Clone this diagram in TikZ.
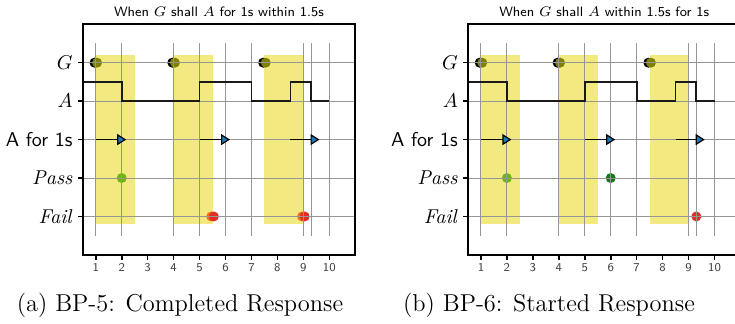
\documentclass[tikz,border=0pt]{standalone}
\usepackage{amsmath}
\usetikzlibrary{arrows.meta}

\definecolor{spanyellow}{RGB}{242,234,128}
\definecolor{gridgray}{RGB}{150,150,150}
\definecolor{gcolor}{RGB}{128,128,0}
\definecolor{holdblue}{RGB}{31,119,180}
\definecolor{passlight}{RGB}{110,180,20}
\definecolor{passdark}{RGB}{20,120,20}
\definecolor{failorange}{RGB}{245,110,30}
\definecolor{failred}{RGB}{225,45,35}

% shaded windows: G plus 1.5s
\newcommand{\panelspans}{%
  \foreach \s in {1,4,7.5}
    \fill[span] (\s,-0.2) rectangle ({\s+1.5},4.2);
}
% G events
\newcommand{\panelgmarks}{%
  \foreach \t in {1,4,7.5} {
    \fill[black] ({\t-0.05},4) circle[radius=2.5pt];
    \fill[gcolor] ({\t+0.05},4) circle[radius=2.5pt];
  }
}
% grid, signal, frame and labels
\newcommand{\panelfront}[2]{%
  \foreach \t in {1,2,4,5,6,7,9,9.3,10}
    \draw[gridline] (\t,-0.5) -- (\t,4.5);
  \foreach \r in {0,...,4}
    \draw[gridline] (0.5,\r) -- (11,\r);
  % A
  \draw[signal] (0.5,3.5) -- (2,3.5) -- (2,3) -- (5,3) -- (5,3.5) -- (7,3.5)
    -- (7,3) -- (8.5,3) -- (8.5,3.5) -- (9.3,3.5) -- (9.3,3) -- (10,3);
  % A for 1s
  \coordinate (#1h1) at (1,2);   \coordinate (#1e1) at (2,2);
  \coordinate (#1h2) at (5,2);   \coordinate (#1e2) at (6,2);
  \coordinate (#1h3) at (8.5,2); \coordinate (#1e3) at (9.45,2);
  \foreach \i in {1,2,3}
    \draw[holdarrow] (#1h\i) -- (#1e\i);
  % axes
  \draw[frame] (0.5,-1) rectangle (11,5);
  \foreach \r/\lab in {4/$G$, 3/$A$, 2/\textsf{A for 1s}, 1/\textit{Pass}, 0/\textit{Fail}} {
    \draw[tickmark] (0.5,\r) -- ++(-2.5pt,0);
    \node[ylab] (#1row\r) at ([xshift=-4.9pt]0.5,\r) {\lab};
  }
  \foreach \t in {1,...,10} {
    \draw[tickmark] (\t,-1) -- ++(0,-2.3pt);
    \node[xlab] (#1x\t) at ([yshift=-4pt]\t,-1) {\t};
  }
  \node[title] (#1title) at (5.75,5.19) {#2};
}

\begin{document}
\begin{tikzpicture}[
    line cap=butt, line join=miter,
    span/.style={fill=spanyellow},
    gridline/.style={draw=gridgray, line width=0.5pt},
    signal/.style={draw=black!90, line width=0.85pt},
    frame/.style={draw=black, line width=1.1pt},
    tickmark/.style={draw=black, line width=0.8pt},
    holdarrow/.style={draw=black, line width=0.6pt, shorten >=-2.25pt,
      -{Triangle[length=4.5pt, width=5.5pt, fill=holdblue]}},
    ylab/.style={anchor=east, inner sep=0pt, font=\fontsize{10}{12}\selectfont},
    xlab/.style={anchor=north, inner sep=0pt, text=black!75,
      font=\sffamily\fontsize{6}{7}\selectfont},
    title/.style={anchor=base, inner sep=0pt, font=\sffamily\fontsize{6.8}{8}\selectfont},
    caption/.style={anchor=base, inner sep=0pt, font=\fontsize{12.2}{14}\selectfont}
  ]
  \useasboundingbox (0,0) rectangle (367.5pt,162pt);
  \clip (0,0) rectangle (367.5pt,162pt);

  % (a) completed response
  \begin{scope}[shift={(34.9pt,53.75pt)}, x=12.975pt, y=19.225pt]
    \panelspans
    \panelgmarks
    \fill[passlight] (2,1) circle[radius=2.5pt];
    \foreach \t in {5.5,9} {
      \fill[failorange] ({\t-0.05},0) circle[radius=2.5pt];
      \fill[failred] ({\t+0.05},0) circle[radius=2.5pt];
    }
    \panelfront{a}{When $G$ shall $A$ for 1s within 1.5s}
  \end{scope}

  % (b) started response
  \begin{scope}[shift={(227.5pt,53.75pt)}, x=12.975pt, y=19.225pt]
    \panelspans
    \panelgmarks
    \fill[passlight] (2,1) circle[radius=2.5pt];
    \fill[passdark] (6,1) circle[radius=2.5pt];
    \fill[failred] (9.3,0) circle[radius=2.5pt];
    \panelfront{b}{When $G$ shall $A$ within 1.5s for 1s}
  \end{scope}

  \node[caption] (capa) at (90pt,6pt) {(a) BP-5: Completed Response};
  \node[caption] (capb) at (274.5pt,6pt) {(b) BP-6: Started Response};
\end{tikzpicture}
\end{document}
